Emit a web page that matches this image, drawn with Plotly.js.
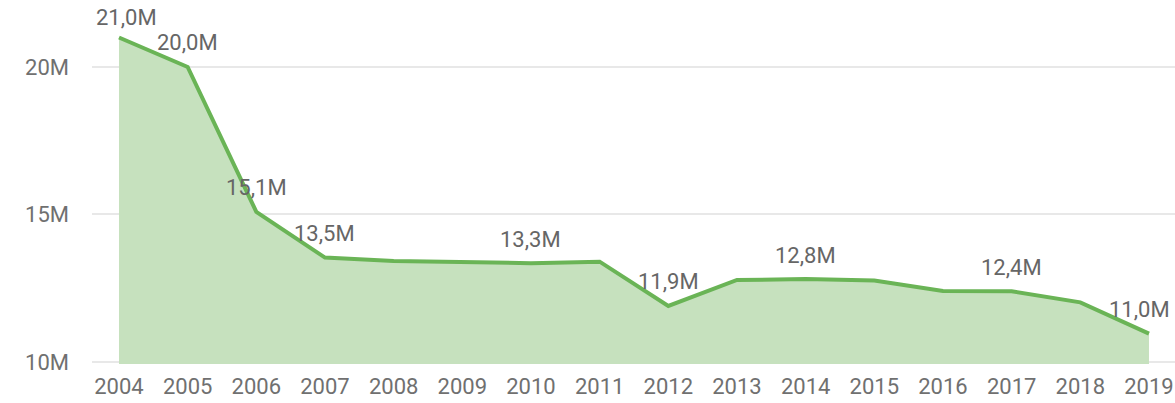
<!DOCTYPE html>
<html>
<head>
<meta charset="utf-8">
<script src="https://cdn.plot.ly/plotly-3.0.1.min.js"></script>
<style>html,body{margin:0;padding:0;background:#fff;}#chart{width:1175px;height:403px;}</style>
</head>
<body>
<div id="chart"></div>
<script>
const years = ['2004','2005','2006','2007','2008','2009','2010','2011','2012','2013','2014','2015','2016','2017','2018','2019'];
const values = [21.0, 20.0, 15.09, 13.54, 13.42, 13.37, 13.35, 13.40, 11.90, 12.78, 12.81, 12.76, 12.41, 12.40, 12.02, 10.96];
const labelYears = ['2004','2005','2006','2007','2010','2012','2014','2017','2019'];
const yTickVals = [10, 15, 20];
const yTickText = ['10M', '15M', '20M'];

const font = 'Roboto, "DejaVu Sans", sans-serif';
const trace = {
  type: 'scatter',
  mode: 'lines',
  x: years,
  y: values,
  line: {color: '#6ab456', width: 4},
  fill: 'tozeroy',
  fillcolor: '#c6e1be',
  hoverinfo: 'skip'
};

const annotations = labelYears.map((yr, i) => {
  const idx = years.indexOf(yr);
  let xs = 0, ys = 24;
  if (i === 0) { xs = 8; ys = 20; }
  if (i === labelYears.length - 1) xs = -9;
  return {
    x: idx, y: values[idx], xref: 'x', yref: 'y',
    text: values[idx].toFixed(1).replace('.', ',') + 'M',
    showarrow: false, yshift: ys, xshift: xs,
    font: {family: font, size: 22, color: '#666'}
  };
});

const layout = {
  width: 1175, height: 403,
  margin: {l: 92, r: 0, t: 0, b: 39},
  paper_bgcolor: '#fff', plot_bgcolor: '#fff',
  showlegend: false,
  xaxis: {
    type: 'category',
    range: [-0.393, 15.379],
    showgrid: false, zeroline: false, showline: false,
    ticks: '', ticklabelstandoff: 7,
    tickfont: {family: font, size: 22, color: '#707070'}
  },
  yaxis: {
    range: [9.932, 22.271],
    tickvals: yTickVals, ticktext: yTickText,
    showgrid: true, gridcolor: '#e8e8e8', gridwidth: 2,
    zeroline: false, showline: false, ticks: '',
    ticklabelstandoff: 22,
    tickfont: {family: font, size: 22, color: '#707070'}
  },
  annotations: annotations
};

Plotly.newPlot('chart', [trace], layout, {displayModeBar: false, staticPlot: true});
</script>
</body>
</html>
